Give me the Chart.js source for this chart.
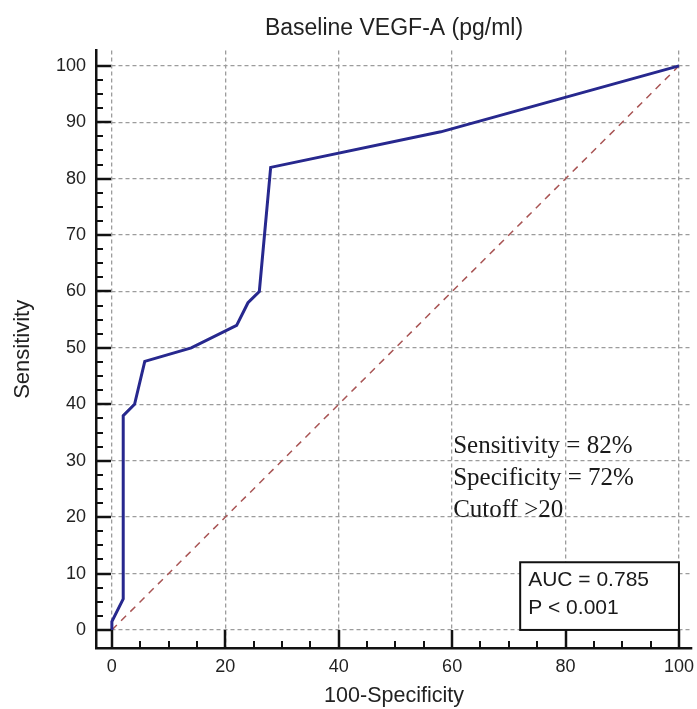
<!DOCTYPE html>
<html>
<head>
<meta charset="utf-8">
<script src="https://cdn.jsdelivr.net/npm/chart.js@4.4.1/dist/chart.umd.min.js"></script>
<style>
  body { margin: 0; background: #fff; }
  canvas { display: block; }
</style>
</head>
<body>
<canvas id="roc" width="697" height="709"></canvas>
<script>
// ROC curve: 100-specificity vs sensitivity
const fpr = [0, 0, 2, 2, 4, 5.8, 14, 22, 24, 26, 28, 58, 100];
const tpr = [0, 1.5, 5.5, 38, 40, 47.6, 50, 54, 58, 60, 82, 88.3, 100];
const refX = [0, 100];
const refY = [0, 100];

const statLines = ["Sensitivity = 82%", "Specificity = 72%", "Cutoff >20"];
const aucLines = ["AUC = 0.785", "P < 0.001"];

const toPoints = (xs, ys) => xs.map((x, i) => ({ x: x, y: ys[i] }));

// inward tick marks (major + minor) drawn off the axis lines
const innerTicks = {
    id: "innerTicks",
    afterDraw(chart) {
        const ctx = chart.ctx;
        const { x, y } = chart.scales;
        const area = chart.chartArea;
        ctx.save();
        ctx.strokeStyle = "#111";
        for (let v = 0; v <= 100; v += 5) {
            const major = v % 20 === 0;
            const px = Math.round(x.getPixelForValue(v));
            ctx.lineWidth = major ? 2.5 : 2;
            ctx.beginPath();
            ctx.moveTo(px, area.bottom);
            ctx.lineTo(px, area.bottom - (major ? 18 : 7));
            ctx.stroke();
        }
        for (let v = 0; v <= 100; v += 2.5) {
            const major = v % 10 === 0;
            const py = Math.round(y.getPixelForValue(v));
            ctx.lineWidth = major ? 2.5 : 2;
            ctx.beginPath();
            ctx.moveTo(area.left, py);
            ctx.lineTo(area.left + (major ? 15 : 7), py);
            ctx.stroke();
        }
        ctx.restore();
    }
};

// cutoff stats and AUC box
const notes = {
    id: "notes",
    afterDraw(chart) {
        const ctx = chart.ctx;
        const { x, y } = chart.scales;
        ctx.save();
        ctx.fillStyle = "#1a1a1a";
        ctx.font = "25px 'Liberation Serif', 'Times New Roman', serif";
        ctx.textBaseline = "alphabetic";
        const tx = x.getPixelForValue(60) + 1;
        let ty = y.getPixelForValue(20) - 64;
        statLines.forEach((t) => {
            ctx.fillText(t, tx, ty);
            ty += 32;
        });

        const bx1 = x.getPixelForValue(72);
        const bx2 = x.getPixelForValue(100);
        const by1 = y.getPixelForValue(12);
        const by2 = y.getPixelForValue(0);
        ctx.fillStyle = "#fff";
        ctx.fillRect(bx1, by1, bx2 - bx1, by2 - by1);
        ctx.strokeStyle = "#111";
        ctx.lineWidth = 2;
        ctx.strokeRect(bx1, by1, bx2 - bx1, by2 - by1);
        ctx.fillStyle = "#1a1a1a";
        ctx.font = "21px 'Liberation Sans', Arial, sans-serif";
        ctx.fillText(aucLines[0], bx1 + 8, by1 + 24);
        ctx.fillText(aucLines[1], bx1 + 8, by1 + 52);
        ctx.restore();
    }
};

const gridDash = [4, 3];
const sans = "'Liberation Sans', Arial, sans-serif";

new Chart(document.getElementById("roc"), {
    type: "scatter",
    data: {
        datasets: [
            {
                data: toPoints(refX, refY),
                showLine: true,
                borderColor: "#a85454",
                borderWidth: 1.5,
                borderDash: [7, 6],
                pointRadius: 0,
                order: 2
            },
            {
                data: toPoints(fpr, tpr),
                showLine: true,
                borderColor: "#27288e",
                borderWidth: 3,
                pointRadius: 0,
                tension: 0,
                order: 1
            }
        ]
    },
    options: {
        responsive: false,
        animation: false,
        devicePixelRatio: 1,
        layout: { padding: { left: 0, right: 5, top: 0, bottom: 0 } },
        plugins: {
            legend: { display: false },
            tooltip: { enabled: false },
            title: {
                display: true,
                fullSize: false,
                text: "Baseline VEGF-A (pg/ml)",
                color: "#222",
                font: { family: sans, size: 23, weight: "normal" },
                padding: { top: 15, bottom: 8 }
            }
        },
        scales: {
            x: {
                type: "linear",
                min: -2.8,
                max: 102.3,
                afterFit: (s) => {
                    s.height = 61;
                    s.paddingLeft = 0;
                    s.paddingRight = 0;
                },
                ticks: {
                    stepSize: 20,
                    includeBounds: false,
                    color: "#222",
                    padding: 8,
                    maxRotation: 0,
                    font: { family: sans, size: 18 }
                },
                grid: { color: "#9c9c9c", lineWidth: 1.3, drawTicks: false },
                border: { display: true, color: "#111", width: 2.5, dash: gridDash },
                title: {
                    display: true,
                    text: "100-Specificity",
                    color: "#222",
                    font: { family: sans, size: 21.5 },
                    padding: { top: 0, bottom: 0 }
                }
            },
            y: {
                type: "linear",
                min: -3.2,
                max: 102.7,
                afterFit: (s) => {
                    s.width = 96;
                    s.paddingTop = 0;
                    s.paddingBottom = 0;
                },
                ticks: {
                    stepSize: 10,
                    includeBounds: false,
                    color: "#222",
                    padding: 10,
                    font: { family: sans, size: 18 }
                },
                grid: { color: "#9c9c9c", lineWidth: 1.3, drawTicks: false },
                border: { display: true, color: "#111", width: 2.5, dash: gridDash },
                title: {
                    display: true,
                    text: "Sensitivity",
                    color: "#222",
                    font: { family: sans, size: 22 },
                    padding: { top: 10, bottom: 0 }
                }
            }
        }
    },
    plugins: [innerTicks, notes]
});
</script>
</body>
</html>
